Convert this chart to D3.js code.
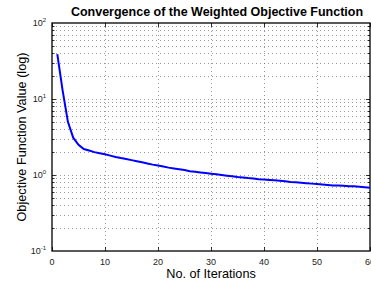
<!DOCTYPE html>
<html>
<head>
<meta charset="UTF-8" />
<script src="https://d3js.org/d3.v7.min.js"></script>
<style>
  body { margin: 0; background: #fff; }
  text { font-family: "Liberation Sans", Arial, sans-serif; }
</style>
</head>
<body>
<svg id="chart" width="371" height="282"></svg>
<script>
  // objective value per iteration
  var iterations = d3.range(1, 61);
  var objective = [
    39, 13, 5.0, 3.1, 2.5, 2.2, 2.1, 2.0, 1.93, 1.87,
    1.80, 1.73, 1.67, 1.62, 1.57, 1.52, 1.47, 1.42, 1.37, 1.33,
    1.29, 1.25, 1.22, 1.19, 1.16, 1.12, 1.10, 1.08, 1.06, 1.04,
    1.02, 1.00, 0.98, 0.96, 0.94, 0.93, 0.91, 0.90, 0.88, 0.87,
    0.86, 0.85, 0.84, 0.83, 0.81, 0.80, 0.79, 0.78, 0.77, 0.76,
    0.75, 0.74, 0.73, 0.73, 0.72, 0.71, 0.71, 0.70, 0.69, 0.68
  ];
  var xTicks = [0, 10, 20, 30, 40, 50, 60];
  var yExponents = [-1, 0, 1, 2];

  var svg = d3.select("#chart");
  var mLeft = 52, mRight = 370, mTop = 23, mBottom = 251;

  var x = d3.scaleLinear().domain([0, 60]).range([mLeft, mRight]);
  var y = d3.scaleLog().domain([0.1, 100]).range([mBottom, mTop]);

  // minor log values
  var minorVals = [];
  [0.1, 1, 10].forEach(function(d) {
    for (var k = 2; k <= 9; k++) minorVals.push(d * k);
  });

  var grid = svg.append("g")
    .attr("stroke", "#555")
    .attr("stroke-width", 0.6)
    .attr("stroke-dasharray", "1,3");

  grid.selectAll(".gy")
    .data(minorVals.concat([1, 10]))
    .enter().append("line")
    .attr("x1", mLeft).attr("x2", mRight)
    .attr("y1", function(d) { return Math.round(y(d)) + 0.5; })
    .attr("y2", function(d) { return Math.round(y(d)) + 0.5; });

  grid.selectAll(".gx")
    .data(xTicks.slice(1, -1))
    .enter().append("line")
    .attr("y1", mTop).attr("y2", mBottom)
    .attr("x1", function(d) { return Math.round(x(d)) + 0.5; })
    .attr("x2", function(d) { return Math.round(x(d)) + 0.5; });

  // ticks (inward)
  var ticks = svg.append("g").attr("stroke", "#000").attr("stroke-width", 0.8);
  xTicks.forEach(function(d) {
    var px = Math.round(x(d)) + 0.5;
    ticks.append("line").attr("x1", px).attr("x2", px).attr("y1", mBottom).attr("y2", mBottom - 4);
    ticks.append("line").attr("x1", px).attr("x2", px).attr("y1", mTop).attr("y2", mTop + 4);
  });
  minorVals.concat([1, 10]).forEach(function(d) {
    var py = Math.round(y(d)) + 0.5;
    var len = (d === 1 || d === 10) ? 4 : 2.5;
    ticks.append("line").attr("x1", mLeft).attr("x2", mLeft + len).attr("y1", py).attr("y2", py);
    ticks.append("line").attr("x1", mRight).attr("x2", mRight - len).attr("y1", py).attr("y2", py);
  });

  // box
  svg.append("rect")
    .attr("x", mLeft).attr("y", mTop)
    .attr("width", mRight - mLeft).attr("height", mBottom - mTop)
    .attr("fill", "none").attr("stroke", "#000").attr("stroke-width", 1.3);

  // line
  var line = d3.line()
    .x(function(d, i) { return x(iterations[i]); })
    .y(function(d) { return y(d); });

  svg.append("path")
    .datum(objective)
    .attr("d", line)
    .attr("fill", "none")
    .attr("stroke", "#0000ff")
    .attr("stroke-width", 2);

  // x tick labels
  svg.selectAll(".xl")
    .data(xTicks)
    .enter().append("text")
    .attr("x", function(d) { return x(d); })
    .attr("y", 265)
    .attr("text-anchor", "middle")
    .attr("font-size", 9)
    .attr("fill", "#222")
    .text(function(d) { return d; });

  // y tick labels 10^n
  var yl = svg.selectAll(".yl")
    .data(yExponents)
    .enter().append("text")
    .attr("x", 46)
    .attr("y", function(d) { return y(Math.pow(10, d)) + 3; })
    .attr("text-anchor", "end")
    .attr("font-size", 9)
    .attr("fill", "#222");
  yl.append("tspan").text("10");
  yl.append("tspan")
    .attr("dy", -4)
    .attr("font-size", 6)
    .text(function(d) { return d; });

  // title and axis labels
  svg.append("text")
    .attr("x", 217).attr("y", 16)
    .attr("text-anchor", "middle")
    .attr("font-size", 12.5)
    .attr("font-weight", "bold")
    .text("Convergence of the Weighted Objective Function");

  svg.append("text")
    .attr("x", 211).attr("y", 278)
    .attr("text-anchor", "middle")
    .attr("font-size", 12.7)
    .text("No. of Iterations");

  svg.append("text")
    .attr("transform", "translate(26," + ((mTop + mBottom) / 2) + ") rotate(-90)")
    .attr("text-anchor", "middle")
    .attr("font-size", 12.7)
    .text("Objective Function Value (log)");
</script>
</body>
</html>
